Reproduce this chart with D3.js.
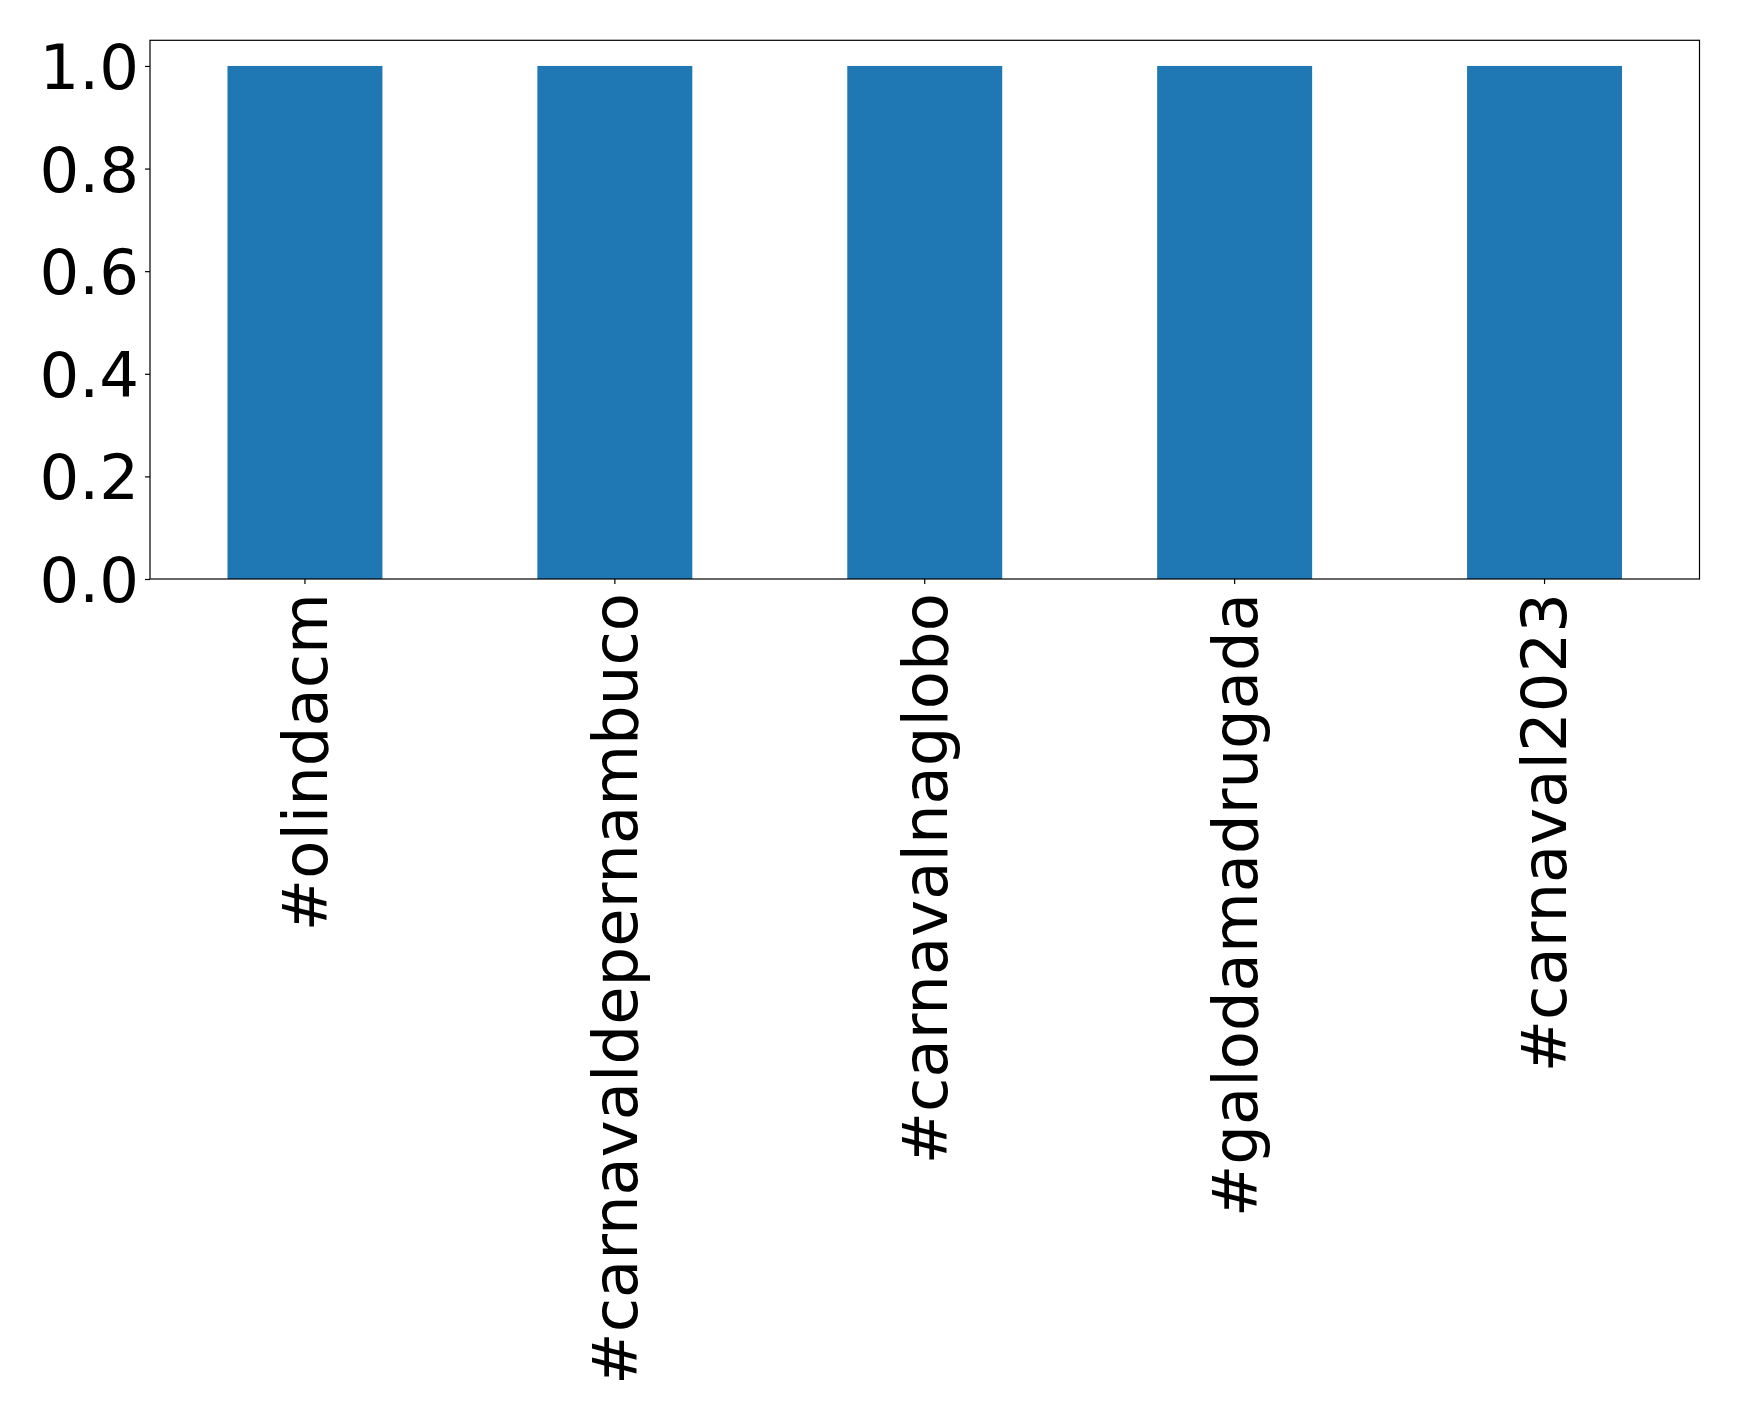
<!DOCTYPE html>
<html>
<head>
<meta charset="utf-8">
<script src="https://cdn.jsdelivr.net/npm/d3@7"></script>
<style>
  html, body { margin: 0; padding: 0; background: #fff; }
  svg { display: block; }
  text { font-family: "DejaVu Sans", sans-serif; fill: #000; }
</style>
</head>
<body>
<svg id="chart" width="1739" height="1420"></svg>
<script>
const categories = ["#olindacm", "#carnavaldepernambuco", "#carnavalnaglobo", "#galodamadrugada", "#carnaval2023"];
const values = [1, 1, 1, 1, 1];
const yTicks = [0.0, 0.2, 0.4, 0.6, 0.8, 1.0];
const yMax = 1.05;

const svg = d3.select("#chart");
const margin = { left: 150, top: 40.3, right: 1739 - 1699.5, bottom: 1420 - 579 };
const W = 1739 - margin.left - margin.right;
const H = 1420 - margin.top - margin.bottom;
const g = svg.append("g").attr("transform", `translate(${margin.left},${margin.top})`);

const x = d3.scaleBand().domain(categories).range([0, W]).paddingInner(0.5).paddingOuter(0.25);
const y = d3.scaleLinear().domain([0, yMax]).range([H, 0]);

g.selectAll("rect.bar").data(categories).join("rect")
  .attr("class", "bar")
  .attr("x", d => x(d))
  .attr("width", x.bandwidth())
  .attr("y", (d, i) => y(values[i]))
  .attr("height", (d, i) => y(0) - y(values[i]))
  .attr("fill", "#1f77b4");

// frame
g.append("rect").attr("x", 0).attr("y", 0).attr("width", W).attr("height", H)
  .attr("fill", "none").attr("stroke", "#000").attr("stroke-width", 1.2);

const fs = "62.5px";
const yAxis = d3.axisLeft(y).tickValues(yTicks).tickFormat(d3.format(".1f")).tickSize(5).tickPadding(6);
const ya = g.append("g").call(yAxis);
ya.select(".domain").remove();
ya.selectAll("line").attr("stroke", "#000").attr("stroke-width", 1.2);
ya.selectAll("text").style("font-size", fs).style("font-family", "DejaVu Sans").attr("dy", "0.36em");

const xAxis = d3.axisBottom(x).tickSize(5).tickPadding(0);
const xa = g.append("g").attr("transform", `translate(0,${H})`).call(xAxis);
xa.select(".domain").remove();
xa.selectAll("line").attr("stroke", "#000").attr("stroke-width", 1.2);
xa.selectAll("text")
  .style("font-size", fs).style("font-family", "DejaVu Sans")
  .attr("transform", "rotate(-90)")
  .attr("text-anchor", "end")
  .attr("x", -14).attr("y", 0).attr("dy", "0.35em");
</script>
</body>
</html>
